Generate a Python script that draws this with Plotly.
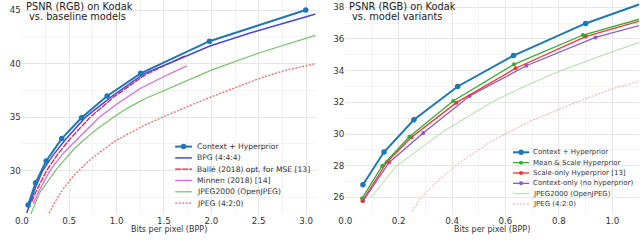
import plotly.graph_objects as go

# ---------------- data ----------------
ctx_bpp = [0.066, 0.145, 0.257, 0.421, 0.630, 0.900, 1.254, 1.980, 2.996]
ctx_psnr = [26.80, 28.86, 30.90, 33.00, 34.95, 36.98, 39.10, 42.10, 45.02]

bpg_bpp = [0.052, 0.10, 0.15, 0.22, 0.33, 0.463, 0.672, 0.95, 1.287, 1.60, 1.985, 2.40, 2.84, 3.10]
bpg_psnr = [26.04, 27.40, 28.60, 30.00, 31.45, 32.93, 35.00, 36.95, 39.05, 40.20, 41.65, 42.85, 44.00, 44.65]

balle_bpp = [0.104, 0.15, 0.261, 0.38, 0.505, 0.721, 0.98, 1.30, 1.724]
balle_psnr = [27.10, 28.05, 30.00, 31.55, 32.93, 35.00, 36.95, 38.95, 40.75]

minnen_bpp = [0.12, 0.18, 0.296, 0.42, 0.592, 0.818, 1.00, 1.254, 1.50, 1.74]
minnen_psnr = [26.90, 28.10, 30.00, 31.45, 33.00, 35.00, 36.20, 37.70, 38.80, 39.80]

j2k_bpp = [0.094, 0.19, 0.366, 0.548, 0.644, 0.80, 0.993, 1.104, 1.306, 1.60, 2.00, 2.50, 3.10]
j2k_psnr = [25.95, 27.95, 30.15, 32.00, 32.80, 33.95, 35.15, 35.80, 36.75, 37.90, 39.40, 41.00, 42.65]

jpeg_bpp = [0.25, 0.28, 0.35, 0.437, 0.548, 0.697, 0.85, 0.99, 1.104, 1.306, 1.55, 1.90, 2.25, 2.50, 2.77, 3.10]
jpeg_psnr = [25.10, 25.90, 27.10, 28.30, 29.55, 30.84, 31.90, 32.80, 33.35, 34.30, 35.25, 36.55, 37.75, 38.60, 39.35, 40.00]

ms_bpp = [0.063, 0.138, 0.240, 0.404, 0.632, 0.890, 1.25]
ms_psnr = [25.94, 27.98, 29.83, 32.08, 34.40, 36.25, 37.95]

so_bpp = [0.064, 0.157, 0.248, 0.416, 0.638, 0.900, 1.25]
so_psnr = [25.77, 28.25, 29.79, 31.98, 34.15, 36.15, 37.85]

co_bpp = [0.067, 0.165, 0.292, 0.466, 0.678, 0.937, 1.30]
co_psnr = [25.77, 28.22, 30.07, 32.40, 34.31, 36.10, 37.75]

left_names = ["Context + Hyperprior", "BPG (4:4:4)", "Ballé (2018) opt. for MSE [13]",
              "Minnen (2018) [14]", "JPEG2000 (OpenJPEG)", "JPEG (4:2:0)"]
right_names = ["Context + Hyperprior", "Mean & Scale Hyperprior", "Scale-only Hyperprior [13]",
               "Context-only (no hyperprior)", "JPEG2000 (OpenJPEG)", "JPEG (4:2:0)"]

left_xticks = [0.0, 0.5, 1.0, 1.5, 2.0, 2.5, 3.0]
left_yticks = [30, 35, 40, 45]
right_xticks = [0.0, 0.2, 0.4, 0.6, 0.8, 1.0]
right_yticks = [26, 28, 30, 32, 34, 36, 38]

# ---------------- styles ----------------
FONT = "DejaVu Sans"
W, H = 640, 248
PH = 214  # plot-area height in px
C_CTX = "#1f77b4"
left_styles = [
    dict(color=C_CTX, width=2.0, dash="solid", marker=5.5),
    dict(color="#4848e0", width=1.5, dash="solid", marker=0),
    dict(color="#dc1f4a", width=1.3, dash="6px,1px", marker=0),
    dict(color="#d16ee0", width=1.3, dash="solid", marker=0),
    dict(color="#74c46a", width=1.2, dash="solid", marker=0),
    dict(color="#f06a6a", width=1.3, dash="2px,1.5px", marker=0),
]
right_styles = [
    dict(color=C_CTX, width=2.0, dash="solid", marker=5.5),
    dict(color="#35aa35", width=1.3, dash="solid", marker=4),
    dict(color="#f03535", width=1.3, dash="solid", marker=4),
    dict(color="#8a5cc4", width=1.3, dash="solid", marker=4),
    dict(color="#a8dca0", width=1.0, dash="solid", marker=0),
    dict(color="#f4a0a0", width=1.0, dash="2px,1.5px", marker=0),
]

left_series = [(ctx_bpp, ctx_psnr), (bpg_bpp, bpg_psnr), (balle_bpp, balle_psnr),
               (minnen_bpp, minnen_psnr), (j2k_bpp, j2k_psnr), (jpeg_bpp, jpeg_psnr)]
right_series = [(ctx_bpp, ctx_psnr), (ms_bpp, ms_psnr), (so_bpp, so_psnr),
                (co_bpp, co_psnr), (j2k_bpp, j2k_psnr), (jpeg_bpp, jpeg_psnr)]

fig = go.Figure()


def add_series(series, names, styles, xa, ya):
    # draw in reverse so that Context + Hyperprior is on top
    for (x, y), name, st in reversed(list(zip(series, names, styles))):
        mode = "lines+markers" if st["marker"] else "lines"
        fig.add_trace(go.Scatter(
            x=x, y=y, name=name, mode=mode, xaxis=xa, yaxis=ya, showlegend=False,
            line=dict(color=st["color"], width=st["width"], dash=st["dash"]),
            marker=dict(size=st["marker"] or 1, color=st["color"]),
        ))


add_series(left_series, left_names, left_styles, "x", "y")
add_series(right_series, right_names, right_styles, "x2", "y2")

GRID = "#e6e6e6"
MINOR = "#f3f3f3"
TICKFONT = dict(family=FONT, size=8.7, color="#333333")


def xax(domain, rng, ticks, minor_dtick, anchor):
    return dict(domain=domain, range=rng, tickvals=ticks, ticktext=[f"{t:.1f}" for t in ticks],
                showgrid=True, gridcolor=GRID, gridwidth=1, zeroline=False, showline=False,
                ticks="", tickfont=TICKFONT, fixedrange=True, anchor=anchor,
                minor=dict(dtick=minor_dtick, showgrid=True, gridcolor=MINOR, gridwidth=1))


def yax(rng, ticks, anchor, minor_dtick):
    return dict(domain=[0, 1], range=rng, tickvals=ticks, ticktext=[str(t) for t in ticks],
                showgrid=True, gridcolor=GRID, gridwidth=1, zeroline=False, showline=False,
                ticks="", tickfont=TICKFONT, anchor=anchor, fixedrange=True,
                minor=dict(dtick=minor_dtick, showgrid=True, gridcolor=MINOR, gridwidth=1))


fig.update_layout(
    width=W, height=H,
    margin=dict(l=0, r=0, t=0, b=H - PH),
    paper_bgcolor="white", plot_bgcolor="white",
    font=dict(family=FONT, color="#333333"),
    showlegend=False,
    xaxis=xax([15 / W, 312 / W], [0, 3.1], left_xticks, 0.25, "y"),
    yaxis=yax([25.95, 45.95], left_yticks, "x", 2.5),
    xaxis2=xax([342 / W, 639 / W], [0, 1.1], right_xticks, 0.1, "y2"),
    yaxis2=yax([24.95, 38.46], right_yticks, "x2", 1),
)


def px_x(p):
    return p / W


def px_y(p):
    return 1 - p / PH


annotations = []
shapes = []


def text(x, y, s, size, color="#222222", xanchor="left"):
    annotations.append(dict(x=px_x(x), y=px_y(y), xref="paper", yref="paper", text=s,
                            showarrow=False, xanchor=xanchor, yanchor="middle", borderpad=0,
                            font=dict(family=FONT, size=size, color=color)))


# panel titles
text(18, 6.9, "PSNR (RGB) on Kodak", 9.8)
text(21, 16.8, "vs. baseline models", 9.8)
text(345, 6.9, "PSNR (RGB) on Kodak", 9.8)
text(347.7, 16.8, "vs. model variants", 9.8)

# axis titles
text(163.5, 229.2, "Bits per pixel (BPP)", 8, color="#333333", xanchor="center")
text(490.5, 229.2, "Bits per pixel (BPP)", 8, color="#333333", xanchor="center")


def legend(names, styles, x0, x1, xt, y0, dy, size):
    for i, (name, st) in enumerate(zip(names, styles)):
        yc = y0 + i * dy
        shapes.append(dict(type="line", xref="paper", yref="paper",
                           x0=px_x(x0), x1=px_x(x1), y0=px_y(yc), y1=px_y(yc),
                           line=dict(color=st["color"], width=st["width"], dash=st["dash"])))
        if st["marker"]:
            r = st["marker"] / 2
            shapes.append(dict(type="circle", xref="paper", yref="paper",
                               xsizemode="pixel", ysizemode="pixel",
                               xanchor=px_x((x0 + x1) / 2), yanchor=px_y(yc),
                               x0=-r, x1=r, y0=-r, y1=r,
                               fillcolor=st["color"], line=dict(width=0)))
        text(xt, yc, name, size, color="#333333")


legend(left_names, left_styles, 170, 187, 191.5, 146.6, 11.3, 7.6)
legend(right_names, right_styles, 511.5, 528, 530.5, 152.3, 10.35, 7.0)

fig.update_layout(annotations=annotations, shapes=shapes)
fig.write_html("out.html", config={"displayModeBar": False},
               post_script="document.body.style.margin='0px';")
